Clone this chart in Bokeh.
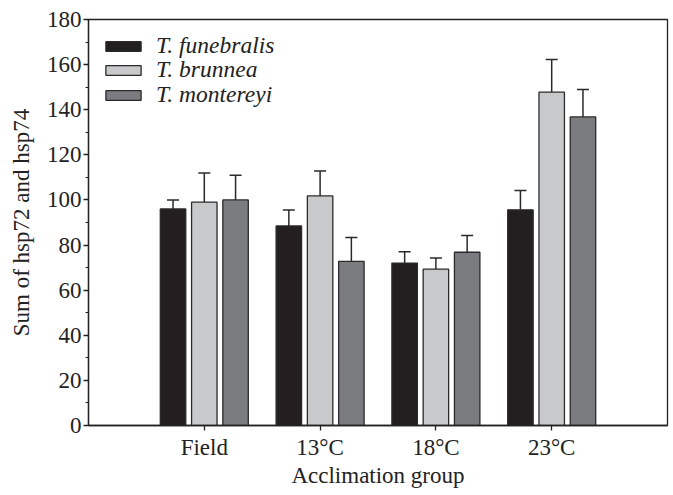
from bokeh.plotting import figure
from bokeh.models import (ColumnDataSource, Range1d, FixedTicker, Whisker, TeeHead,
                          Legend, LegendItem)
from bokeh.embed import file_html
from bokeh.resources import INLINE

groups = ["Field", "13°C", "18°C", "23°C"]
species = ["T. funebralis", "T. brunnea", "T. montereyi"]
funebralis = [96, 88.5, 72, 95.6]
funebralis_err = [4, 7, 5, 8.6]
brunnea = [99, 101.8, 69.3, 147.8]
brunnea_err = [13, 11, 5, 14.5]
montereyi = [100, 72.8, 76.8, 136.8]
montereyi_err = [11, 10.6, 7.4, 12.2]
y_ticks = [0, 20, 40, 60, 80, 100, 120, 140, 160, 180]

colors = ["#231f20", "#c8c9cb", "#7b7c80"]
offsets = [-0.27, 0.0, 0.27]
FONT = "Liberation Serif"
FS = "23px"

p = figure(width=673, height=495, output_backend="svg", toolbar_location=None,
           x_range=Range1d(0, 5), y_range=Range1d(0, 180),
           min_border_left=88, min_border_right=6, min_border_top=19, min_border_bottom=70)
p.xgrid.visible = False
p.ygrid.visible = False
p.outline_line_color = "#222222"
p.outline_line_width = 1.3
p.background_fill_color = "white"

series = [funebralis, brunnea, montereyi]
errs = [funebralis_err, brunnea_err, montereyi_err]
legend_y = [366, 342, 317]
for k, (vals, err) in enumerate(zip(series, errs)):
    xs = [i + 1 + offsets[k] for i in range(len(groups))]
    src = ColumnDataSource(dict(x=xs, top=vals, up=[v + e for v, e in zip(vals, err)]))
    w = Whisker(source=src, base="x", lower="top", upper="up", dimension="height",
                line_color="#2a2a2a", line_width=1.5,
                upper_head=TeeHead(size=12, line_color="#2a2a2a", line_width=1.5),
                lower_head=None)
    p.add_layout(w)
    r = p.vbar(x="x", top="top", width=0.22, bottom=0, source=src,
               fill_color=colors[k], line_color="#2a2a2a", line_width=1.3)
    lg = Legend(items=[LegendItem(label=species[k], renderers=[r])],
                location=(13, legend_y[k]), margin=0, padding=0,
                glyph_width=44, glyph_height=12, label_height=20, spacing=0,
                label_standoff=11, label_text_font=FONT, label_text_font_size="23.5px",
                label_text_font_style="italic", label_text_color="#222222",
                border_line_alpha=0, background_fill_alpha=0)
    p.add_layout(lg)

# axes
p.xaxis.ticker = FixedTicker(ticks=[1, 2, 3, 4])
p.xaxis.major_label_overrides = {i + 1: g for i, g in enumerate(groups)}
p.xaxis.axis_label = "Acclimation group"
p.yaxis.ticker = FixedTicker(ticks=y_ticks, minor_ticks=list(range(0, 181, 10)))
p.yaxis.axis_label = "Sum of hsp72 and hsp74"

for ax in (p.xaxis[0], p.yaxis[0]):
    ax.axis_line_color = "#222222"
    ax.axis_line_width = 1.3
    ax.major_tick_line_color = "#222222"
    ax.major_tick_line_width = 1.3
    ax.minor_tick_line_color = "#222222" if ax is p.yaxis[0] else None
    ax.minor_tick_line_width = 1.2
    ax.major_tick_in = 0
    ax.major_tick_out = 5
    ax.minor_tick_in = 0
    ax.minor_tick_out = 3
    ax.major_label_text_font = FONT
    ax.major_label_text_font_size = FS
    ax.major_label_text_color = "#222222"
    ax.axis_label_text_font = FONT
    ax.axis_label_text_font_size = FS
    ax.axis_label_text_font_style = "normal"
    ax.axis_label_text_color = "#222222"

p.xaxis.major_label_standoff = 4
p.xaxis.axis_label_standoff = 0
p.yaxis.major_label_standoff = 2
p.yaxis.axis_label_standoff = 10

open("out.html", "w").write(file_html(p, INLINE))
